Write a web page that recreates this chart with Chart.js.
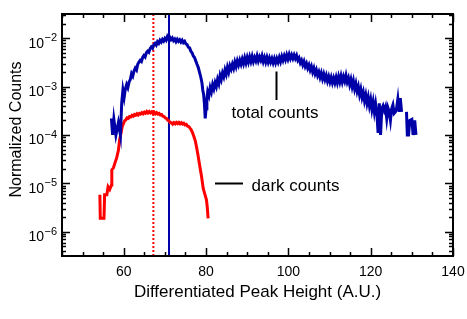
<!DOCTYPE html>
<html>
<head>
<meta charset="utf-8">
<script src="https://cdn.jsdelivr.net/npm/chart.js@4"></script>
<style>
html,body{margin:0;padding:0;background:#fff;}
#wrap{width:467px;height:319px;}
</style>
</head>
<body>
<div id="wrap"><canvas id="c" width="467" height="319"></canvas></div>
<script>
// ---- data ----
const totalX = [57.0,57.3,57.6,58.1,58.7,59.2,59.5,59.8,60.1,60.4,60.7,61.0,61.3,61.6,61.9,62.2,62.5,62.8,63.1,63.4,63.7,64.0,64.3,64.6,64.9,65.2,65.5,65.8,66.1,66.4,66.7,67.0,67.3,67.6,67.9,68.2,68.5,68.8,69.1,69.4,69.7,70.0,70.3,70.6,70.9,71.2,71.5,71.8,72.1,72.4,72.7,73.0,73.3,73.6,73.9,74.2,74.5,74.8,75.1,75.4,75.7,76.0,76.3,76.6,76.9,77.2,77.5,77.8,78.1,78.4,78.7,79.0,79.2,79.4,79.6,79.8,80.0,80.2,80.4,80.7,81.0,81.3,81.6,81.9,82.2,82.5,82.8,83.1,83.4,83.7,84.0,84.3,84.6,84.9,85.2,85.5,85.8,86.1,86.4,86.7,87.0,87.3,87.6,87.9,88.2,88.5,88.8,89.1,89.4,89.7,90.0,90.3,90.6,90.9,91.2,91.5,91.8,92.1,92.4,92.7,93.0,93.3,93.6,93.9,94.2,94.5,94.8,95.1,95.4,95.7,96.0,96.3,96.6,96.9,97.2,97.5,97.8,98.1,98.4,98.7,99.0,99.3,99.6,99.9,100.2,100.5,100.8,101.1,101.4,101.7,102.0,102.3,102.6,102.9,103.2,103.5,103.8,104.1,104.4,104.7,105.0,105.3,105.6,105.9,106.2,106.5,106.8,107.1,107.4,107.7,108.0,108.3,108.6,108.9,109.2,109.5,109.8,110.1,110.4,110.7,111.0,111.3,111.6,111.9,112.2,112.5,112.8,113.1,113.4,113.7,114.0,114.3,114.6,114.9,115.2,115.5,115.8,116.1,116.4,116.7,117.0,117.3,117.6,117.9,118.2,118.5,118.8,119.1,119.4,119.7,120.0,120.3,120.6,120.9,121.2,121.5,121.8,122.1,122.4,122.7,123.0,123.3,123.6,123.9,124.2,124.5,124.8,125.1,125.4,125.7,126.0,126.3,126.6,126.9,127.2,127.5,128.1,128.7,128.9,129.2,129.5,130.0,130.3,130.7,131.0];
const totalY = [2.2e-4,1.0e-4,2.1e-4,1.0e-4,1.8e-4,1.0e-4,4.5e-4,8.5e-4,6.0e-4,9.0e-4,1.1e-3,9.5e-4,1.25e-3,1.4e-3,1.85e-3,1.65e-3,2.1e-3,2.4e-3,2.2e-3,2.9e-3,3.2e-3,3.5e-3,3.3e-3,4.0e-3,4.4e-3,4.1e-3,5.0e-3,5.4e-3,5.1e-3,6.1e-3,6.6e-3,6.2e-3,7.3e-3,7.8e-3,7.2e-3,8.4e-3,7.8e-3,9.0e-3,8.3e-3,9.4e-3,8.7e-3,9.9e-3,9.1e-3,1.08e-2,9.6e-3,1.04e-2,9.3e-3,1.01e-2,8.9e-3,9.6e-3,8.5e-3,9.5e-3,8.6e-3,9.3e-3,8.3e-3,9.1e-3,8.1e-3,8.6e-3,7.6e-3,7.4e-3,6.5e-3,6.3e-3,5.4e-3,5.0e-3,4.3e-3,4.0e-3,3.4e-3,2.9e-3,2.5e-3,2.0e-3,1.6e-3,1.2e-3,8.5e-4,7.0e-4,4.5e-4,2.2e-4,3.5e-4,5.5e-4,7.8e-4,6.5e-4,9.5e-4,7.8e-4,1.1e-3,9.0e-4,1.2e-3,1.0e-3,1.4e-3,1.15e-3,1.7e-3,1.4e-3,1.9e-3,1.6e-3,2.2e-3,1.8e-3,2.5e-3,2.0e-3,2.7e-3,2.3e-3,2.9e-3,2.4e-3,3.2e-3,2.6e-3,3.4e-3,2.8e-3,3.5e-3,2.9e-3,3.7e-3,3.0e-3,3.9e-3,3.1e-3,4.0e-3,3.2e-3,4.1e-3,3.3e-3,4.2e-3,3.3e-3,4.0e-3,3.4e-3,4.3e-3,3.4e-3,4.1e-3,3.5e-3,4.3e-3,3.3e-3,4.0e-3,3.2e-3,4.0e-3,3.2e-3,3.9e-3,3.2e-3,3.8e-3,3.1e-3,3.8e-3,3.1e-3,3.8e-3,3.2e-3,4.0e-3,3.3e-3,4.2e-3,3.5e-3,4.3e-3,3.6e-3,4.5e-3,3.7e-3,4.6e-3,3.8e-3,4.5e-3,3.8e-3,4.5e-3,3.8e-3,4.4e-3,3.5e-3,3.9e-3,3.1e-3,3.5e-3,2.8e-3,3.3e-3,2.6e-3,3.0e-3,2.4e-3,2.8e-3,2.2e-3,2.6e-3,2.0e-3,2.4e-3,1.85e-3,2.2e-3,1.7e-3,2.0e-3,1.55e-3,1.9e-3,1.45e-3,1.8e-3,1.4e-3,1.7e-3,1.3e-3,1.6e-3,1.25e-3,1.55e-3,1.2e-3,1.5e-3,1.2e-3,1.55e-3,1.2e-3,1.6e-3,1.25e-3,1.65e-3,1.25e-3,1.6e-3,1.3e-3,1.7e-3,1.25e-3,1.5e-3,1.1e-3,1.4e-3,1.0e-3,1.3e-3,9.0e-4,1.15e-3,8.0e-4,1.0e-3,6.8e-4,8.8e-4,6.0e-4,7.6e-4,5.1e-4,6.7e-4,4.5e-4,6.0e-4,4.0e-4,5.4e-4,3.4e-4,4.8e-4,3.0e-4,4.4e-4,2.8e-4,1.1e-4,4.5e-4,1.0e-4,3.5e-4,4.0e-4,3.2e-4,3.8e-4,2.2e-4,3.6e-4,3.0e-4,2.0e-4,3.5e-4,4.2e-4,2.8e-4,3.0e-4,3.6e-4,5.5e-4,3.0e-4,5.8e-4,3.0e-4,null,3.0e-4,1.0e-4,1.0e-4,2.0e-4,2.1e-4,1.0e-4,2.0e-4,1.0e-4];

const darkX = [54.2,54.3,55.2,55.35,55.9,56.2,56.6,57.0,57.1,57.5,57.9,58.3,58.7,59.0,59.3,59.6,59.9,60.2,60.5,60.8,61.1,61.4,61.7,62.0,62.3,62.6,62.9,63.2,63.5,63.8,64.1,64.4,64.7,65.0,65.3,65.6,65.9,66.2,66.5,66.8,67.1,67.4,67.7,68.0,68.3,68.6,68.9,69.2,69.5,69.8,70.1,70.4,70.7,71.0,71.3,71.6,71.9,72.2,72.5,72.8,73.1,73.4,73.7,74.0,74.3,74.6,74.9,75.2,75.5,75.8,76.1,76.4,76.7,77.0,77.4,77.8,78.1,78.5,78.9,79.3,79.7,80.1,80.3,80.5];
const darkY = [5.8e-6,1.9e-6,1.9e-6,5.8e-6,5.8e-6,8.5e-6,7.5e-6,9.3e-6,1.9e-5,2.1e-5,2.7e-5,3.4e-5,4.8e-5,8.0e-5,1.05e-4,1.45e-4,1.7e-4,1.95e-4,2.05e-4,2.25e-4,2.2e-4,2.4e-4,2.35e-4,2.55e-4,2.45e-4,2.65e-4,2.55e-4,2.75e-4,2.6e-4,2.8e-4,2.7e-4,2.9e-4,2.75e-4,2.95e-4,2.8e-4,3.05e-4,2.85e-4,3.05e-4,2.85e-4,3.0e-4,2.8e-4,2.95e-4,2.75e-4,2.9e-4,2.7e-4,2.8e-4,2.6e-4,2.65e-4,2.45e-4,2.4e-4,2.25e-4,2.2e-4,2.0e-4,1.95e-4,1.8e-4,1.8e-4,1.68e-4,1.8e-4,1.7e-4,1.82e-4,1.72e-4,1.82e-4,1.7e-4,1.8e-4,1.68e-4,1.75e-4,1.62e-4,1.66e-4,1.52e-4,1.5e-4,1.38e-4,1.28e-4,1.12e-4,9.5e-5,7.5e-5,5.0e-5,3.6e-5,2.2e-5,1.4e-5,8.0e-6,6.0e-6,4.6e-6,3.2e-6,1.9e-6];

const xRange = [45, 140];
const yRange = [3.162e-7, 3.162e-2];
const xTickLabels = [60, 80, 100, 120, 140];
const yDecades = [-6, -5, -4, -3, -2];
const markerTotal = 71.0;   // solid blue line
const markerDark = 67.2;    // dotted red line

const BLUE = '#0000a8';
const RED = '#ff0000';
const FONT = '"Liberation Sans", Arial, Helvetica, sans-serif';

const toPts = (xs, ys) => xs.map((x, i) => ({x: x, y: ys[i]}));

const decor = {
  id: 'decor',
  afterDraw(chart) {
    const ctx = chart.ctx;
    const a = chart.chartArea;
    const xs = chart.scales.x, ys = chart.scales.y;
    ctx.save();
    ctx.strokeStyle = '#000';
    ctx.fillStyle = '#000';
    // ticks
    ctx.lineWidth = 1.5;
    ctx.beginPath();
    for (let v = xRange[0]; v <= xRange[1]; v += 5) {
      const px = Math.round(xs.getPixelForValue(v)) + 0.5;
      const len = (v % 20 === 0) ? 8 : 4;
      ctx.moveTo(px, a.bottom); ctx.lineTo(px, a.bottom - len);
      ctx.moveTo(px, a.top); ctx.lineTo(px, a.top + len);
    }
    for (let d = -7; d <= -1; d++) {
      for (let k = 1; k <= 9; k++) {
        const v = k * Math.pow(10, d);
        if (v < yRange[0] || v > yRange[1]) continue;
        const py = Math.round(ys.getPixelForValue(v)) + 0.5;
        const len = (k === 1) ? 8 : 4;
        ctx.moveTo(a.left, py); ctx.lineTo(a.left + len, py);
        ctx.moveTo(a.right, py); ctx.lineTo(a.right - len, py);
      }
    }
    ctx.stroke();
    // frame
    ctx.lineWidth = 2;
    ctx.strokeRect(a.left, a.top, a.right - a.left, a.bottom - a.top);

    // x tick labels
    ctx.font = '14px ' + FONT;
    ctx.textAlign = 'center';
    ctx.textBaseline = 'alphabetic';
    xTickLabels.forEach(v => {
      ctx.fillText(String(v), xs.getPixelForValue(v), a.bottom + 19.5);
    });
    // y tick labels 10^n
    yDecades.forEach(d => {
      const py = ys.getPixelForValue(Math.pow(10, d));
      const sup = '\u2212' + Math.abs(d);
      ctx.font = '11px ' + FONT;
      const sw = ctx.measureText(sup).width;
      ctx.textAlign = 'right';
      ctx.fillText(sup, a.left - 5, py + 3);
      ctx.font = '14px ' + FONT;
      ctx.fillText('10', a.left - 5 - sw - 0.5, py + 9.5);
    });
    // axis titles
    ctx.font = '17px ' + FONT;
    ctx.textAlign = 'center';
    ctx.fillText('Differentiated Peak Height (A.U.)', (a.left + a.right) / 2, a.bottom + 40.5);
    ctx.save();
    ctx.translate(21, 129.5);
    ctx.rotate(-Math.PI / 2);
    ctx.font = '16px ' + FONT;
    ctx.fillText('Normalized Counts', 0, 0);
    ctx.restore();

    // annotations
    ctx.font = '17px ' + FONT;
    ctx.textAlign = 'left';
    ctx.fillText('total counts', 231.5, 118);
    ctx.fillText('dark counts', 251.5, 191);
    ctx.lineWidth = 2;
    ctx.beginPath();
    ctx.moveTo(276.5, 71.5); ctx.lineTo(276.5, 100);
    ctx.moveTo(215, 183.5); ctx.lineTo(243, 183.5);
    ctx.stroke();
    ctx.restore();
  }
};

new Chart(document.getElementById('c'), {
  type: 'line',
  data: {
    datasets: [
      {label: 'total counts', data: toPts(totalX, totalY), borderColor: BLUE, borderWidth: 3, pointRadius: 0, tension: 0, spanGaps: false},
      {label: 'dark counts', data: toPts(darkX, darkY), borderColor: RED, borderWidth: 3, pointRadius: 0, tension: 0},
      {label: 'total marker', data: [{x: markerTotal, y: yRange[0]}, {x: markerTotal, y: yRange[1]}], borderColor: BLUE, borderWidth: 2, pointRadius: 0},
      {label: 'dark marker', data: [{x: markerDark, y: yRange[0]}, {x: markerDark, y: yRange[1]}], borderColor: RED, borderWidth: 2, borderDash: [2, 2], pointRadius: 0}
    ]
  },
  options: {
    responsive: false,
    animation: false,
    events: [],
    layout: {padding: {left: 62, top: 14, right: 14, bottom: 63}},
    plugins: {legend: {display: false}, tooltip: {enabled: false}},
    scales: {
      x: {type: 'linear', min: xRange[0], max: xRange[1], display: false},
      y: {type: 'logarithmic', min: yRange[0], max: yRange[1], display: false}
    }
  },
  plugins: [decor]
});
</script>
</body>
</html>
